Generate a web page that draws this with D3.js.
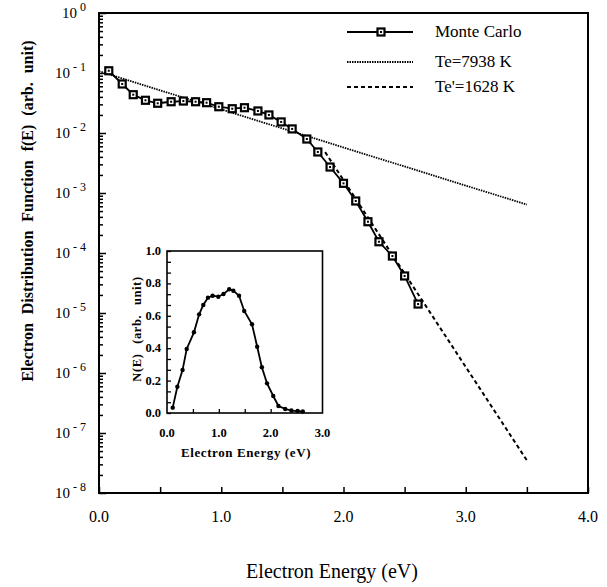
<!DOCTYPE html>
<html>
<head>
<meta charset="utf-8">
<script src="https://cdn.jsdelivr.net/npm/d3@7"></script>
<style>
  body { margin: 0; background: #fff; }
  svg { font-family: "Liberation Serif", "Times New Roman", serif; }
</style>
</head>
<body>
<div id="chart"></div>
<script>
// Monte Carlo distribution (main panel)
var mcE = [0.08,0.19,0.28,0.38,0.48,0.59,0.69,0.79,0.88,0.98,1.09,1.19,1.30,1.39,1.49,1.58,1.70,1.79,1.89,2.00,2.10,2.20,2.29,2.40,2.50,2.61];
var mcF = [0.109,0.0656,0.0435,0.0351,0.0313,0.0332,0.0341,0.0332,0.0320,0.0274,0.0254,0.0264,0.0233,0.0200,0.0153,0.0117,0.00794,0.00483,0.00271,0.00145,0.000736,0.000332,0.000154,0.0000891,0.0000414,0.0000141];
// Maxwellian fits (end points)
var te1E = [0, 3.5];
var te1F = [0.107, 0.00064];
var te2E = [1.85, 3.5];
var te2F = [0.0048, 3.5e-8];
// inset N(E)
var insE = [0.11,0.20,0.30,0.38,0.52,0.62,0.70,0.79,0.88,0.99,1.09,1.20,1.28,1.39,1.49,1.64,1.74,1.83,1.93,2.05,2.15,2.28,2.40,2.52,2.62];
var insN = [0.033,0.162,0.265,0.395,0.498,0.609,0.667,0.712,0.724,0.718,0.735,0.764,0.755,0.724,0.63,0.548,0.409,0.282,0.183,0.105,0.043,0.025,0.015,0.012,0.01];
// ticks / labels
var xTicks = [0, 1, 2, 3, 4];
var xMinor = [0.5, 1.5, 2.5, 3.5];
var yExps = [0, -1, -2, -3, -4, -5, -6, -7, -8];
var insXTicks = [0, 1, 2, 3];
var insYTicks = [0, 0.2, 0.4, 0.6, 0.8, 1.0];
var legendLabels = ["Monte Carlo", "Te=7938 K", "Te'=1628 K"];

var W = 607, H = 587;
var svg = d3.select("#chart").append("svg").attr("width", W).attr("height", H);

var x = d3.scaleLinear().domain([0, 4]).range([99, 588]);
var y = d3.scaleLog().domain([1e-8, 1]).range([493, 13]);

// frame
svg.append("rect").attr("x", 99).attr("y", 13).attr("width", 489).attr("height", 480)
  .attr("fill", "none").attr("stroke", "#000").attr("stroke-width", 2);

// bottom ticks (inward)
var gx = svg.append("g").attr("transform", "translate(0,493)")
  .call(d3.axisBottom(x).tickValues(xTicks.concat(xMinor)).tickSize(-6).tickFormat(""));
gx.select(".domain").remove();
gx.selectAll("line").attr("stroke-width", 1.5);
svg.selectAll(".xlab").data(xTicks).enter().append("text")
  .attr("x", function(d){ return x(d); }).attr("y", 522)
  .attr("text-anchor", "middle").attr("font-size", 16)
  .text(function(d){ return d.toFixed(1); });

// left ticks, log minor
var logTicks = [];
for (var e = -8; e < 0; e++) {
  for (var m = 1; m < 10; m++) logTicks.push(m * Math.pow(10, e));
}
logTicks.push(1);
var gy = svg.append("g").attr("transform", "translate(99,0)")
  .call(d3.axisLeft(y).tickValues(logTicks).tickFormat("")
    .tickSizeInner(-4).tickSizeOuter(0));
gy.select(".domain").remove();
gy.selectAll(".tick line").attr("stroke-width", 1.5)
  .attr("x2", function(d){ var l = Math.log10(d); return Math.abs(l - Math.round(l)) < 1e-9 ? 7 : 4; });

var yl = svg.selectAll(".ylab").data(yExps).enter().append("text")
  .attr("x", 86).attr("y", function(d){ return y(Math.pow(10, d)) + 5; })
  .attr("text-anchor", "end").attr("font-size", 15);
yl.append("tspan").text("10");
yl.append("tspan").attr("dy", -7).attr("dx", 3).attr("font-size", 12).text(function(d){ return d === 0 ? "0" : "- " + (-d); });

// fit lines
var line = d3.line().x(function(d){ return x(d[0]); }).y(function(d){ return y(d[1]); });
svg.append("path").datum(d3.zip(te1E, te1F)).attr("d", line)
  .attr("fill", "none").attr("stroke", "#000").attr("stroke-width", 1.8).attr("stroke-dasharray", "1.5,1");
svg.append("path").datum(d3.zip(te2E, te2F)).attr("d", line)
  .attr("fill", "none").attr("stroke", "#000").attr("stroke-width", 2).attr("stroke-dasharray", "4,3");

// Monte Carlo
var mc = d3.zip(mcE, mcF);
svg.append("path").datum(mc).attr("d", line)
  .attr("fill", "none").attr("stroke", "#000").attr("stroke-width", 1.8);
function square(g, cx, cy) {
  g.append("rect").attr("x", cx - 3.5).attr("y", cy - 3.5).attr("width", 7).attr("height", 7)
    .attr("fill", "#fff").attr("stroke", "#000").attr("stroke-width", 2.2);
  g.append("rect").attr("x", cx - 1).attr("y", cy - 1).attr("width", 2).attr("height", 2).attr("fill", "#000");
}
var gm = svg.append("g");
mc.forEach(function(d){ square(gm, x(d[0]), y(d[1])); });

// legend
var legY = [32, 62, 87];
var legDash = [null, "1.5,1", "4,3"];
legendLabels.forEach(function(t, i){
  svg.append("line").attr("x1", 347).attr("x2", 413).attr("y1", legY[i]).attr("y2", legY[i])
    .attr("stroke", "#000").attr("stroke-width", i === 2 ? 2 : 1.8)
    .attr("stroke-dasharray", legDash[i]);
  if (i === 0) square(svg, 381, legY[i]);
  svg.append("text").attr("x", 435).attr("y", legY[i] + 5).attr("font-size", 17).text(t);
});

// axis titles
svg.append("text").attr("x", 332).attr("y", 578).attr("text-anchor", "middle")
  .attr("font-size", 20).text("Electron Energy (eV)");
svg.append("text").attr("transform", "translate(33,211) rotate(-90)").attr("text-anchor", "middle")
  .attr("font-size", 16).attr("font-weight", "bold").attr("word-spacing", 5)
  .text("Electron Distribution Function f(E) (arb. unit)");

// inset
var ix = d3.scaleLinear().domain([0, 3]).range([167, 322.5]);
var iy = d3.scaleLinear().domain([0, 1]).range([413, 251]);
var ins = svg.append("g");
ins.append("rect").attr("x", 167).attr("y", 251).attr("width", 155.5).attr("height", 162)
  .attr("fill", "#fff").attr("stroke", "#000").attr("stroke-width", 1.6);
var igx = ins.append("g").attr("transform", "translate(0,413)")
  .call(d3.axisBottom(ix).tickValues([0.5, 1, 1.5, 2, 2.5]).tickSize(-4).tickFormat(""));
igx.select(".domain").remove();
igx.selectAll("line").attr("stroke-width", 1.3);
var iyMinor = d3.range(0, 16).map(function(k){ return k / 15; });
var igy = ins.append("g").attr("transform", "translate(167,0)")
  .call(d3.axisLeft(iy).tickValues(iyMinor).tickSize(-4).tickFormat(""));
igy.select(".domain").remove();
igy.selectAll("line").attr("stroke-width", 1.3);

ins.selectAll(".ixl").data(insXTicks).enter().append("text")
  .attr("x", function(d){ return ix(d); }).attr("y", 437).attr("text-anchor", "middle")
  .attr("font-size", 12.5).attr("font-weight", "bold").text(function(d){ return d.toFixed(1); });
ins.selectAll(".iyl").data(insYTicks).enter().append("text")
  .attr("x", 161).attr("y", function(d){ return iy(d) + 4; }).attr("text-anchor", "end")
  .attr("font-size", 12.5).attr("font-weight", "bold").text(function(d){ return d.toFixed(1); });
ins.append("text").attr("x", 246).attr("y", 457).attr("text-anchor", "middle")
  .attr("font-size", 13).attr("font-weight", "bold").attr("letter-spacing", 0.6).text("Electron Energy (eV)");
ins.append("text").attr("transform", "translate(141,329) rotate(-90)").attr("text-anchor", "middle")
  .attr("font-size", 12.5).attr("font-weight", "bold").attr("letter-spacing", 0.6).attr("word-spacing", 6).text("N(E) (arb. unit)");

var iline = d3.line().x(function(d){ return ix(d[0]); }).y(function(d){ return iy(d[1]); });
var insd = d3.zip(insE, insN);
ins.append("path").datum(insd).attr("d", iline)
  .attr("fill", "none").attr("stroke", "#000").attr("stroke-width", 1.8);
ins.selectAll(".idot").data(insd).enter().append("circle")
  .attr("cx", function(d){ return ix(d[0]); }).attr("cy", function(d){ return iy(d[1]); })
  .attr("r", 2.2).attr("fill", "#000");
</script>
</body>
</html>
